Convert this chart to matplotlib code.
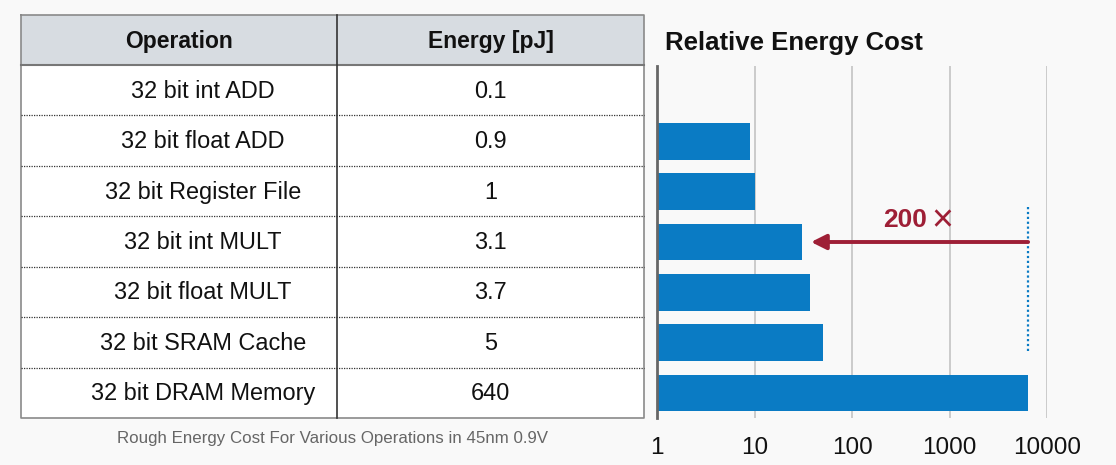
import matplotlib.pyplot as plt
import numpy as np

plt.rcParams['font.family'] = ['Liberation Sans', 'DejaVu Sans']

operations = ['32 bit int ADD', '32 bit float ADD', '32 bit Register File',
              '32 bit int MULT', '32 bit float MULT', '32 bit SRAM Cache',
              '32 bit DRAM Memory']
energy_labels = ['0.1', '0.9', '1', '3.1', '3.7', '5', '640']
relative_cost = [1, 9, 10, 31, 37, 50, 6400]
tick_values = [1, 10, 100, 1000, 10000]
headers = ['Operation', 'Energy [pJ]']
caption = 'Rough Energy Cost For Various Operations in 45nm 0.9V'
title = 'Relative Energy Cost'

W, H = 1116, 465
bg = '#f9f9f9'
bar_color = '#0a7bc4'
red = '#9e1f36'

fig = plt.figure(figsize=(W / 100, H / 100), dpi=100, facecolor=bg)

# table drawn in pixel coordinates
ax_t = fig.add_axes([0, 0, 1, 1])
ax_t.set_xlim(0, W)
ax_t.set_ylim(H, 0)
ax_t.axis('off')

left, mid, right = 21, 337, 644
top, head_bot, bot = 15, 65, 418
row_h = (bot - head_bot) / len(operations)
op_center = 203  # row labels sit a bit right of the column centre

ax_t.add_patch(plt.Rectangle((left, head_bot), right - left, bot - head_bot,
                             facecolor='white', edgecolor='none'))
ax_t.add_patch(plt.Rectangle((left, top), right - left, head_bot - top,
                             facecolor='#d7dce1', edgecolor='none'))
ax_t.plot([left, right, right, left, left], [top, top, bot, bot, top],
          color='#8a8a8a', lw=1.2)
ax_t.plot([left, right], [head_bot, head_bot], color='#777777', lw=1.5)
ax_t.plot([mid, mid], [top, bot], color='#333333', lw=1.2)
for i in range(1, len(operations)):
    y = head_bot + i * row_h
    ax_t.plot([left, right], [y, y], color='#333333', lw=0.9,
              linestyle=(0, (1, 1)))

ax_t.text((left + mid) / 2, (top + head_bot) / 2 + 1.5, headers[0], ha='center',
          va='center', fontsize=16.5, fontweight='bold', color='#111111')
ax_t.text((mid + right) / 2, (top + head_bot) / 2 + 1.5, headers[1], ha='center',
          va='center', fontsize=16.5, fontweight='bold', color='#111111')
for i, (op, en) in enumerate(zip(operations, energy_labels)):
    y = head_bot + (i + 0.5) * row_h + 1
    ax_t.text(op_center, y, op, ha='center', va='center',
              fontsize=16.9, color='#111111')
    ax_t.text((mid + right) / 2, y, en, ha='center', va='center',
              fontsize=16.9, color='#111111')

ax_t.text((left + right) / 2, 438, caption, ha='center', va='center',
          fontsize=12.2, color='#666666')

# bar chart
ax = fig.add_axes([657 / W, (H - bot) / H, (1047 - 657) / W, (bot - 66) / H])
ax.set_facecolor(bg)
y_pos = np.arange(len(operations))
ax.barh(y_pos, relative_cost, height=0.73, color=bar_color, zorder=2)
ax.set_xscale('log')
ax.set_xlim(1, 10000)
ax.set_ylim(len(operations) - 0.5, -0.5)
ax.set_yticks([])
ax.set_xticks(tick_values)
ax.set_xticklabels([str(v) for v in tick_values])
ax.minorticks_off()
ax.tick_params(axis='x', length=0, pad=14, labelsize=17.5, colors='#111111')
for v in tick_values[1:]:
    ax.axvline(v, color='#c8c8c8', lw=1.3, zorder=1)
for s in ['top', 'right', 'bottom']:
    ax.spines[s].set_visible(False)
ax.spines['left'].set_color('#666666')
ax.spines['left'].set_linewidth(2)

ax.text(0.02, 1.065, title, transform=ax.transAxes, fontsize=18.5,
        fontweight='bold', ha='left', va='center', color='#111111')

# 200x annotation
ax.plot([relative_cost[-1], relative_cost[-1]], [2.3, 5.2], color=bar_color,
        lw=1.6, linestyle=(0, (1, 1.2)), zorder=3)
ax.annotate('', xy=(38, 3), xytext=(relative_cost[-1], 3),
            arrowprops=dict(arrowstyle='-|>,head_length=0.9,head_width=0.45',
                            color=red, lw=2.8, shrinkA=0, shrinkB=0), zorder=4)
ax.text(590, 2.57, '200', ha='right', va='center', fontsize=19,
        fontweight='bold', color=red)
ax.text(660, 2.58, '×', ha='left', va='center', fontsize=27, color=red,
        fontweight='light')

fig.savefig('out.png', dpi=100, facecolor=bg)
